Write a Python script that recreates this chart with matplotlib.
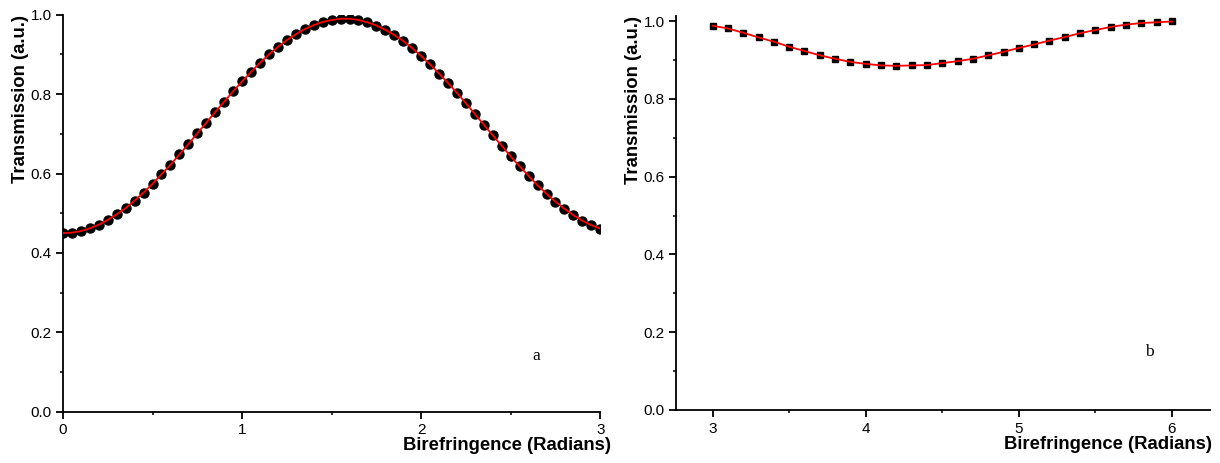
import numpy as np
import matplotlib.pyplot as plt
from matplotlib.ticker import MultipleLocator

plt.rcParams['font.family'] = ['Liberation Sans', 'DejaVu Sans']

# panel a: data (step 0.05 rad)
x_a = np.round(np.arange(0, 61) * 0.05, 2)
t_a = [0.450, 0.451, 0.455, 0.462, 0.471, 0.483, 0.497, 0.513, 0.532, 0.552,
       0.574, 0.598, 0.622, 0.648, 0.674, 0.701, 0.728, 0.755, 0.781, 0.807,
       0.832, 0.856, 0.879, 0.900, 0.919, 0.936, 0.951, 0.964, 0.974, 0.982,
       0.987, 0.990, 0.990, 0.987, 0.981, 0.973, 0.962, 0.949, 0.934, 0.916,
       0.896, 0.875, 0.852, 0.828, 0.803, 0.777, 0.750, 0.723, 0.696, 0.670,
       0.643, 0.618, 0.594, 0.570, 0.549, 0.529, 0.511, 0.495, 0.481, 0.470,
       0.461]

# panel b: data (step 0.1 rad)
x_b = np.round(3.0 + np.arange(0, 31) * 0.1, 1)
t_b = [0.988, 0.981, 0.970, 0.958, 0.947, 0.934, 0.923, 0.912, 0.903, 0.895,
       0.890, 0.886, 0.885, 0.886, 0.887, 0.892, 0.897, 0.903, 0.912, 0.921,
       0.931, 0.940, 0.950, 0.959, 0.969, 0.977, 0.985, 0.991, 0.995, 0.997,
       0.999]

fig = plt.figure(figsize=(12.2, 4.63), dpi=100)
ax1 = fig.add_axes([0.0516, 0.111, 0.4404, 0.857])
ax2 = fig.add_axes([0.554, 0.1145, 0.438, 0.850])


def style(ax):
    for s in ['top', 'right']:
        ax.spines[s].set_visible(False)
    for s in ['left', 'bottom']:
        ax.spines[s].set_linewidth(1.3)
    ax.tick_params(which='major', direction='out', length=5, width=1.3, labelsize=11)
    ax.tick_params(axis='y', which='major', pad=3)
    ax.tick_params(axis='x', which='major', pad=3.5)
    ax.tick_params(which='minor', direction='out', length=2.5, width=1.1)
    ax.yaxis.set_major_locator(MultipleLocator(0.2))
    ax.yaxis.set_minor_locator(MultipleLocator(0.1))
    ax.xaxis.set_major_locator(MultipleLocator(1))
    ax.xaxis.set_minor_locator(MultipleLocator(0.5))
    ax.yaxis.set_major_formatter(plt.FormatStrFormatter('%.1f'))
    ax.set_xlabel('Birefringence (Radians)', loc='right', fontsize=13.3, fontweight='bold', labelpad=0)
    ax.set_ylabel('Transmission (a.u.)', loc='top', fontsize=13.3, fontweight='bold', labelpad=1)


ax1.plot(x_a, t_a, 'o', color='black', markersize=6.5, zorder=2)
ax1.plot(x_a, t_a, '-', color='red', linewidth=1.3, zorder=3)
ax1.set_xlim(0, 3)
ax1.set_ylim(0, 1.0)
style(ax1)
ax1.xaxis.label.set_x(1.02)
ax1.text(2.64, 0.14, 'a', family=['Liberation Serif'], fontsize=12.5, ha='center', va='center')

ax2.plot(x_b, t_b, 's', color='black', markersize=5, zorder=2)
ax2.plot(x_b, t_b, '-', color='red', linewidth=1.3, zorder=3)
ax2.set_xlim(2.76, 6.25)
ax2.set_ylim(0, 1.012)
style(ax2)
ax2.xaxis.label.set_x(1.003)
ax2.text(5.85, 0.15, 'b', family=['Liberation Serif'], fontsize=12.5, ha='center', va='center')

fig.savefig('out.png', dpi=100)
